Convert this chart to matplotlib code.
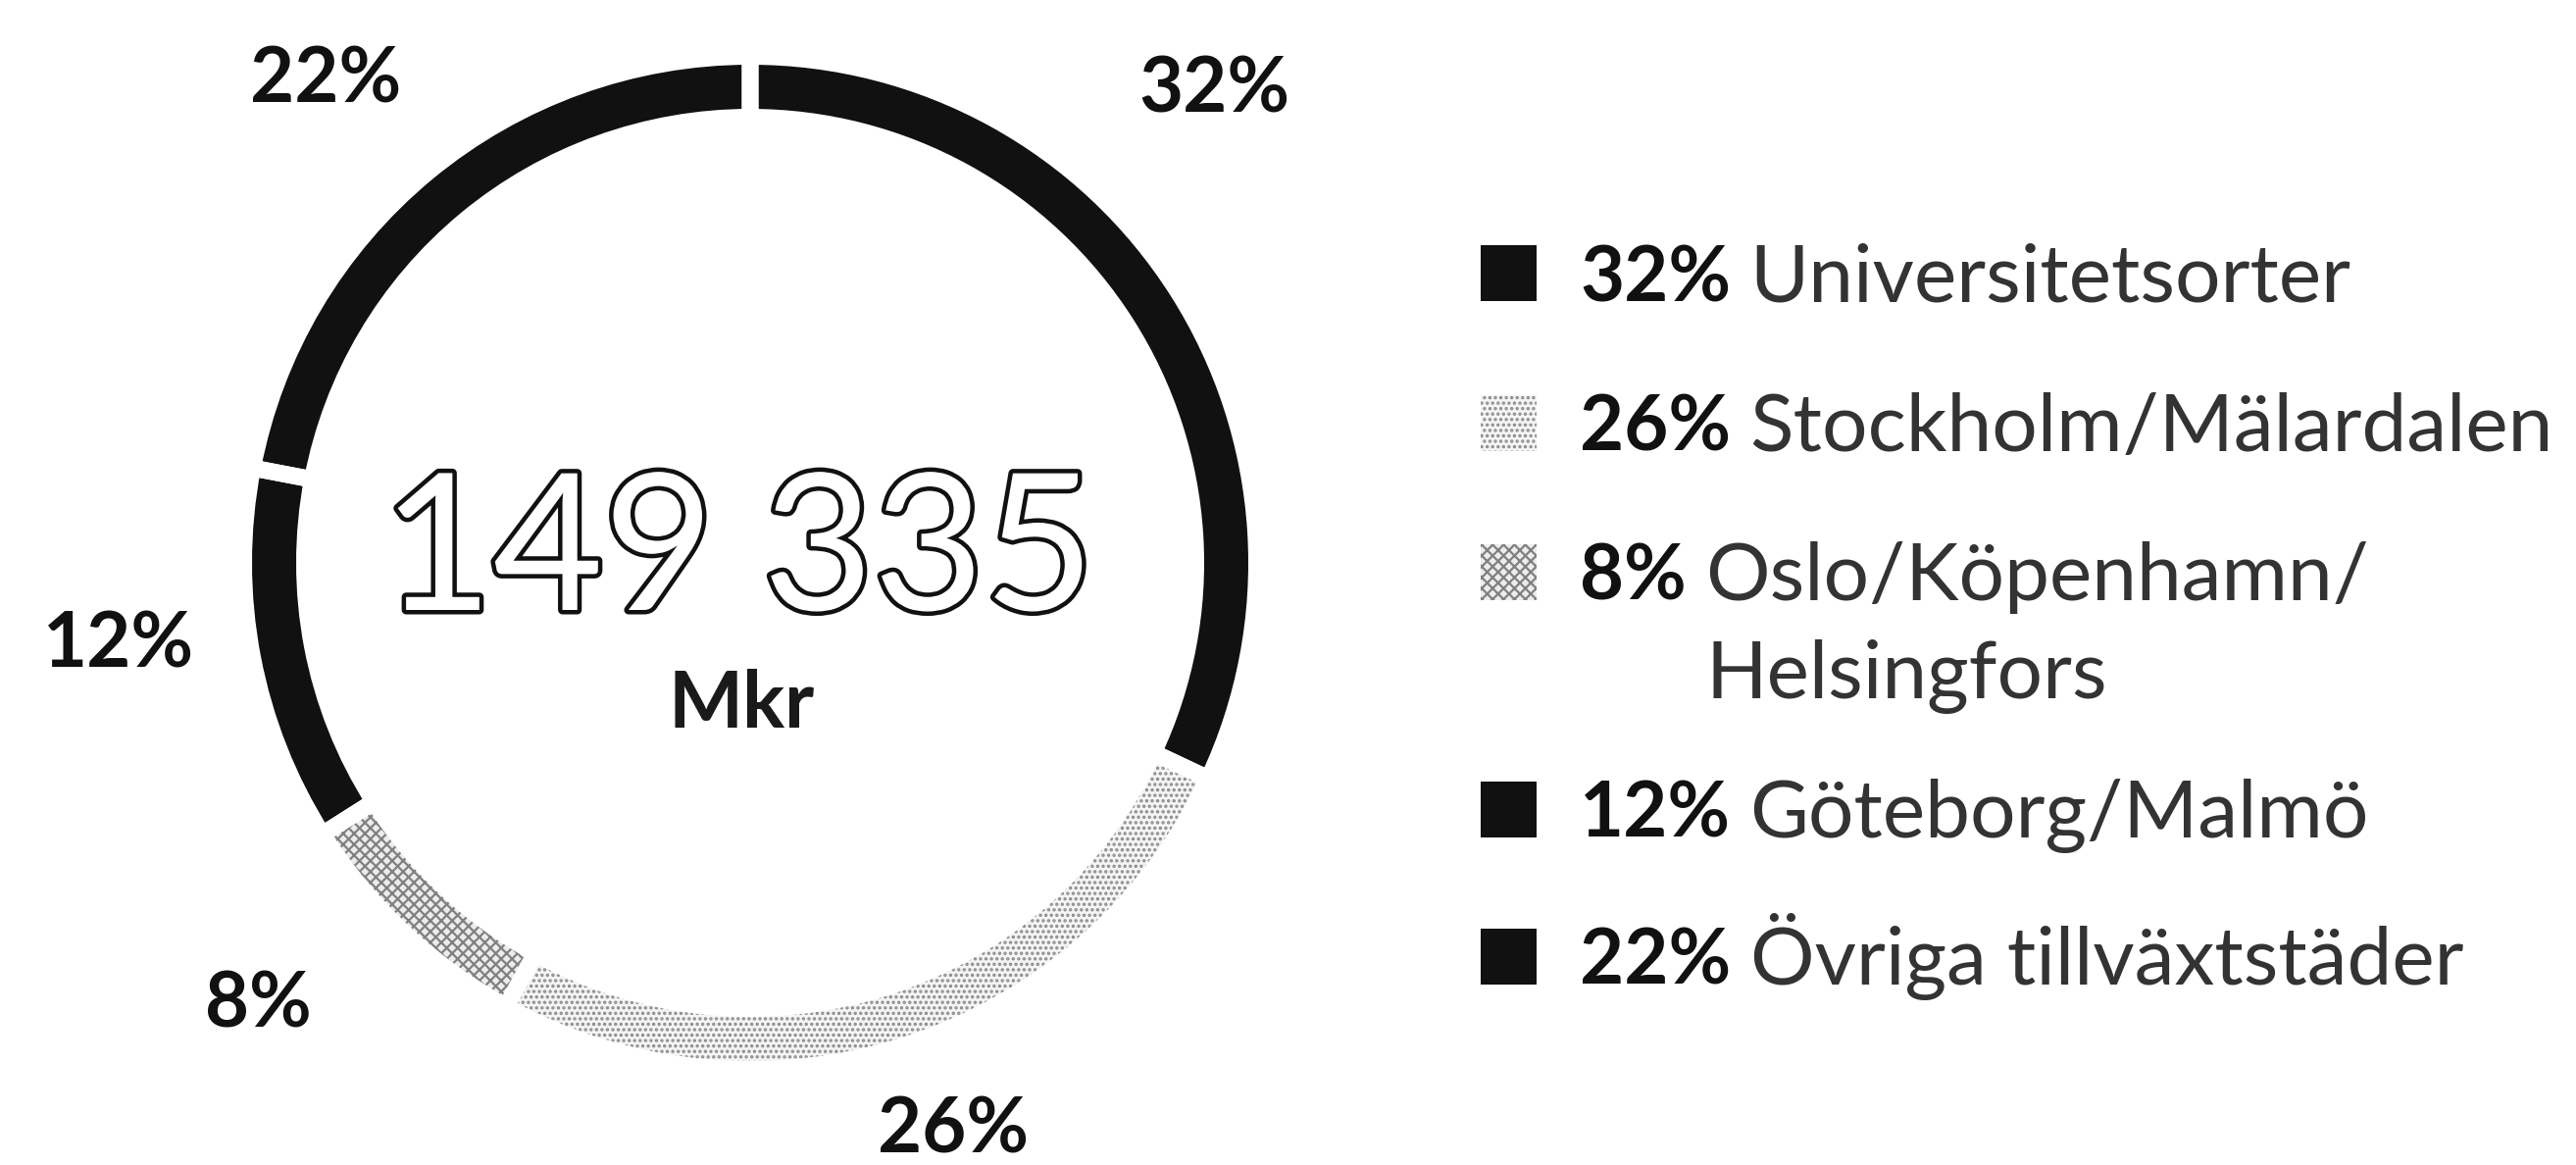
import matplotlib
matplotlib.use('Agg')
import matplotlib.pyplot as plt
import matplotlib.patheffects as pe
from matplotlib.patches import Rectangle
import numpy as np

plt.rcParams['font.family'] = ['Lato', 'DejaVu Sans']
plt.rcParams['hatch.linewidth'] = 1.6

# Data
shares = [32, 26, 8, 12, 22]
regions = ['Universitetsorter', 'Stockholm/Mälardalen',
           'Oslo/Köpenhamn/\nHelsingfors', 'Göteborg/Malmö',
           'Övriga tillväxtstäder']
total_label = '149 335'
unit_label = 'Mkr'

# Styles
fills = ['#111111', '#f4f4f4', '#ececec', '#111111', '#111111']
hatches = [None, '...', 'xxx', None, None]
hatch_cols = ['#111111', '#8a8a8a', '#808080', '#111111', '#111111']

W, H, DPI = 2627, 1188, 100
fig = plt.figure(figsize=(W / DPI, H / DPI), dpi=DPI)
fig.patch.set_facecolor('white')

# Donut axes: centre at (765, 574) px, 1 unit = 500 px
cx, cy, half = 765, 574, 600
ax = fig.add_axes([(cx - half) / W, (H - cy - half) / H, 2 * half / W, 2 * half / H])

gap_px = 17
lw_pt = gap_px * 72 / DPI
outer = (508 + gap_px / 2) / 500
width = (45 + gap_px) / 500

wedges, _ = ax.pie(shares, radius=outer, startangle=90, counterclock=False,
                   colors=fills, wedgeprops=dict(width=width, linewidth=0))
for w, h, hc in zip(wedges, hatches, hatch_cols):
    w.set_edgecolor(hc)
    w.set_linewidth(0)
    if h:
        w.set_hatch(h)
# white separators between segments
ax.pie(shares, radius=outer, startangle=90, counterclock=False,
       colors=['none'] * len(shares),
       wedgeprops=dict(width=width, edgecolor='white', linewidth=lw_pt))

ax.set_xlim(-1.2, 1.2)
ax.set_ylim(-1.2, 1.2)
ax.set_aspect('equal')
ax.axis('off')

# Percentage labels around the ring (angle in deg, distance in ring units)
lbl_ang = [45.5, -70.3, -138.0, -172.5, 131.4]
lbl_dist = [1.35, 1.23, 1.35, 1.30, 1.31]
for s, a, d in zip(shares, lbl_ang, lbl_dist):
    ax.text(d * np.cos(np.radians(a)), d * np.sin(np.radians(a)), f'{s}%',
            ha='center', va='center', fontsize=56, fontweight='bold',
            color='#111111')

# Centre text
ax.text(-0.024, -0.096, total_label, ha='center', va='baseline',
        fontsize=140, color='white',
        path_effects=[pe.withStroke(linewidth=6.5, foreground='#111111')])
ax.text(-0.018, -0.335, unit_label, ha='center', va='baseline',
        fontsize=58, fontweight='bold', color='#1a1a1a')

# Legend drawn in pixel coordinates
lax = fig.add_axes([0, 0, 1, 1])
lax.set_xlim(0, W)
lax.set_ylim(H, 0)
lax.axis('off')

row_y = [278, 431, 583, 825, 975]
line_step = 72  # points between wrapped lines
for s, name, fc, h, hc, yc in zip(shares, regions, fills, hatches, hatch_cols, row_y):
    lax.add_patch(Rectangle((1510, yc - 28.5), 57, 57, facecolor=fc,
                            edgecolor=hc, hatch=h, linewidth=0))
    base = yc + 29
    pct = lax.text(1611, base, f'{s}%', ha='left', va='baseline',
                   fontsize=56, fontweight='bold', color='#111111')
    for k, line in enumerate(name.split('\n')):
        lax.annotate(line, xy=(1, base), xycoords=(pct, 'data'),
                     xytext=(14, -k * line_step), textcoords='offset points',
                     ha='left', va='baseline', fontsize=59,
                     fontweight='normal', color='#333333')

fig.savefig('out.png', dpi=DPI, facecolor='white')
